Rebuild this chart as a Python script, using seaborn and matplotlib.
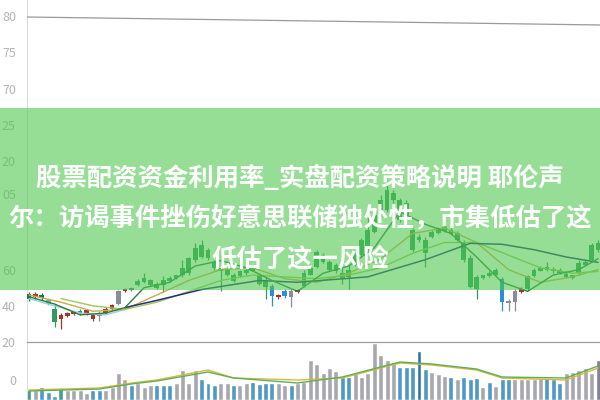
import numpy as np
import pandas as pd
import matplotlib
matplotlib.use("Agg")
import matplotlib.pyplot as plt
from matplotlib.patches import Rectangle
import seaborn as sns

# ---------------- data ----------------
body_top = [46.3, 46.3, 45.8, 43.1, 38.1, 34.8, 35.9, 36.5, 37.0, 37.6,
            34.8, 35.4, 38.1, 40.3, 48.0, 49.1, 49.6, 53.5, 55.1, 54.0,
            51.8, 54.0, 55.1, 56.8, 61.1, 66.6, 72.1, 73.7, 71.0, 64.4,
            61.1, 60.0, 57.3, 59.0, 60.0, 61.1, 56.2, 53.5, 50.7, 45.8,
            48.0, 48.0, 48.5, 58.4, 61.1, 69.9, 68.3, 64.4, 62.8, 58.4,
            60.0, 68.3, 76.5, 82.0, 90.2, 98.4, 103.9, 102.2, 98.4, 96.8,
            82.0, 78.1, 76.5, 80.9, 83.1, 83.6, 82.0, 80.3, 74.8, 66.6,
            55.7, 56.8, 58.4, 60.0, 54.6, 42.5, 48.0, 49.1, 56.2, 60.0,
            61.1, 61.7, 60.6, 60.0, 57.8, 56.8, 63.9, 64.4, 73.7, 74.8]
body_bot = [43.6, 44.7, 44.1, 40.9, 31.0, 32.6, 34.3, 35.4, 35.9, 35.4,
            32.6, 34.3, 35.9, 38.1, 40.9, 48.0, 48.5, 51.3, 52.9, 51.3,
            49.6, 51.3, 53.5, 55.1, 56.8, 58.4, 65.5, 67.2, 66.6, 61.1,
            59.0, 57.3, 53.5, 56.2, 58.4, 59.5, 51.8, 50.2, 45.2, 44.7,
            45.2, 44.7, 47.4, 50.7, 57.3, 61.7, 64.4, 60.0, 59.0, 54.6,
            55.7, 62.8, 68.3, 72.1, 80.9, 90.2, 92.9, 98.4, 87.4, 90.2,
            71.0, 76.5, 69.4, 78.1, 80.3, 81.4, 79.8, 76.5, 65.5, 50.2,
            49.1, 55.1, 56.2, 57.3, 42.0, 41.4, 42.0, 47.4, 49.1, 56.2,
            59.5, 60.0, 59.0, 58.4, 55.7, 55.1, 58.4, 62.8, 65.5, 71.0]
wick_hi = [47.4, 47.4, 46.9, 43.6, 40.9, 35.9, 36.5, 37.0, 38.1, 38.1,
           35.4, 37.0, 39.2, 40.9, 48.5, 49.6, 50.2, 54.6, 58.4, 54.6,
           52.9, 56.2, 56.2, 57.3, 65.5, 67.2, 74.8, 76.5, 72.1, 65.5,
           68.3, 61.1, 58.4, 60.0, 61.1, 62.8, 57.3, 55.7, 51.8, 46.3,
           49.1, 49.1, 49.1, 60.0, 62.2, 71.0, 69.4, 65.5, 63.9, 61.7,
           62.8, 69.4, 77.6, 90.2, 91.8, 101.1, 106.6, 103.9, 99.5, 98.4,
           83.1, 79.8, 78.1, 82.0, 83.6, 84.7, 83.1, 81.4, 76.5, 68.3,
           56.8, 57.3, 59.0, 61.1, 55.7, 43.6, 49.1, 50.2, 57.3, 61.1,
           62.2, 64.4, 61.7, 61.1, 59.0, 57.3, 65.5, 65.5, 74.8, 76.5]
wick_lo = [42.5, 43.6, 43.1, 40.3, 28.3, 27.2, 33.7, 34.8, 34.8, 34.8,
           31.5, 31.5, 35.4, 37.6, 40.3, 47.4, 48.0, 50.7, 52.4, 50.7,
           49.1, 47.4, 52.9, 54.6, 55.7, 57.3, 64.4, 66.6, 65.5, 60.0,
           48.0, 56.2, 52.9, 55.7, 57.3, 59.0, 51.3, 43.6, 39.8, 43.6,
           44.1, 39.2, 46.9, 50.2, 56.8, 61.1, 63.9, 59.5, 58.4, 51.8,
           49.1, 62.2, 67.2, 71.0, 80.3, 89.1, 91.8, 96.8, 86.3, 89.1,
           69.9, 75.4, 61.7, 77.6, 79.8, 80.9, 79.2, 75.9, 64.4, 49.6,
           43.6, 54.6, 55.7, 56.8, 37.0, 37.0, 37.0, 46.9, 48.5, 55.7,
           59.0, 59.5, 58.4, 57.8, 55.1, 54.6, 57.3, 62.2, 64.4, 69.9]
candle_kind = list("trtcgrrrgrrkrrkrg" + "g" * 21 + "brbkr" + "g" * 31 + "bkkr" + "g" * 12)

volume = [5, 5, 6.5, 4, 2, 6, 5, 5, 5, 3.5,
          5, 5, 5, 6.5, 13.5, 10.5, 7.5, 8.5, 6.5, 7.5,
          7.5, 7.5, 7.5, 8.5, 15, 8.5, 15, 10.5, 8.5, 7.5,
          8.5, 8.5, 7.5, 7.5, 8.5, 9, 8, 8.5, 8.5, 8.5,
          7.5, 7.5, 8.5, 9, 20, 18, 13.5, 16, 14.5, 11.5,
          11.5, 13.5, 11.5, 13.5, 28.5, 22.5, 20, 19, 16.5, 16.5,
          16.5, 24.5, 15.5, 14, 13, 12, 11.5, 10.5, 11.5, 10.5,
          11, 6.5, 9, 7, 10.5, 10.5, 10.5, 10.5, 10.5, 10.5,
          11, 11, 10.5, 8.5, 13.5, 14, 15, 16, 13.5, 20]
volume_kind = list("tkbbbtkkkkbbkkkkbkkkbbbkkkkbbbkkbkkbbbbkk"
                   "bkkkkkkkbbkkkkkkkbbbdbkkkbkbbbkbkbbkkkkkbbbkkkkkp")

ma_short_x = [0, 4, 8, 12, 15, 18, 22, 26, 30, 34, 38, 42, 46, 50, 54, 58, 62, 66, 70, 74, 78, 82, 86, 89]
ma_short_y = [45, 41, 35, 36, 39, 50, 53, 62, 65, 61, 54, 48, 58, 62, 72, 92, 85, 80, 67, 53, 48, 57, 60, 66]
ma_mid_x = [0, 5, 10, 15, 20, 25, 30, 35, 40, 45, 50, 55, 60, 65, 70, 75, 80, 85, 89]
ma_mid_y = [46, 42, 37, 38, 46, 54, 60, 61, 55, 53, 58, 66, 80, 83, 75, 60, 53, 56, 60]
ma_20_x = [5, 10, 15, 20, 25, 30, 35, 40, 45, 50, 55, 60, 65, 70, 75, 80, 85, 89]
ma_20_y = [44, 40, 38, 42, 48, 54, 57, 56, 55, 57, 61, 69, 75, 75, 68, 61, 58, 59]
ma_long_x = [15, 20, 27, 36, 42, 53, 62, 69, 74, 79, 84, 89]
ma_long_y = [39, 43, 49, 54, 53, 56, 65.5, 74.5, 74, 71, 67, 64]
ma_left_x = [0, 4, 8, 12, 15]
ma_left_y = [44, 40, 36, 35, 38]
top_line_x = [-0.3, 89.3]
top_line_y = [199.6, 195.2]

vol_ma_x = [0, 11, 16, 20, 28, 32, 42, 49, 58, 63, 70, 74, 84, 89]
vol_ma_a = [5, 6, 8.5, 10, 15, 11, 10, 11, 18.5, 17.5, 15, 11, 10, 16]
vol_ma_b = [4.5, 5.5, 8, 9.5, 14, 11, 8.5, 11.5, 19, 18, 15.5, 11.5, 11, 17]

price_ticks = [200, 180, 160, 140, 120, 102, 60, 40, 20]
price_tick_labels = ["80", "75", "70", "25", "20", "05", "60", "40", "20"]
vol_ticks = [10]
vol_tick_labels = ["0"]

title_lines = ["股票配资资金利用率_实盘配资策略说明 耶伦声",
               "尔：访谒事件挫伤好意思联储独处性，市集低估了这",
               "低估了这一风险"]

# ---------------- style ----------------
sns.set_theme(style="white")
plt.rcParams['font.family'] = ['Noto Sans CJK SC', 'DejaVu Sans']

candle_colors = {"t": "#17755a", "r": "#a8322d", "c": "#5fbfa8", "g": "#2f9a5a",
                 "b": "#2a8fd6", "k": "#8c8c98"}
vol_colors = {"t": "#36ab9a", "k": "#a6a6b0", "b": "#3c9ed8", "d": "#1f78b8", "p": "#7e7e9e"}

fig = plt.figure(figsize=(6, 4), dpi=100)
fig.patch.set_facecolor("white")
ax = fig.add_axes([27 / 600, 58 / 400, 573 / 600, 342 / 400])
axv = fig.add_axes([27 / 600, 0, 573 / 600, 58 / 400])

n = len(body_top)
idx = np.arange(n)
xlim = (-0.31, 89.31)

# candles
for i in range(n):
    c = candle_colors[candle_kind[i]]
    ax.vlines(i, wick_lo[i], wick_hi[i], color=c, lw=0.9, zorder=2)
ax.bar(idx, np.array(body_top) - np.array(body_bot), bottom=body_bot, width=0.74,
       color=[candle_colors[k] for k in candle_kind], edgecolor="none", zorder=3)

# moving averages
line_df = [
    (ma_left_x, ma_left_y, "#8fd0ea", 1.0),
    (ma_mid_x, ma_mid_y, "#d1a84a", 1.0),
    (ma_20_x, ma_20_y, "#9cc95a", 1.0),
    (ma_long_x, ma_long_y, "#23307f", 1.1),
    (ma_short_x, ma_short_y, "#2e7d3e", 1.0),
    (top_line_x, top_line_y, "#9a9a9a", 0.9),
]
for xs, ys, col, lw in line_df:
    sns.lineplot(x=xs, y=ys, ax=ax, color=col, lw=lw, zorder=4)

ax.set_xlim(*xlim)
ax.set_ylim(20.55, 209.0)
ax.set_yticks(price_ticks)
ax.set_yticklabels(price_tick_labels)
ax.set_xticks([])
ax.tick_params(axis="y", length=0, pad=8, labelsize=9, labelcolor="#b4b4b4")
for s in ["top", "right", "bottom"]:
    ax.spines[s].set_visible(False)
ax.spines["left"].set_color("#dcdcdc")
ax.spines["left"].set_linewidth(0.8)

# volume
vdf = pd.DataFrame({"i": idx, "v": volume, "k": volume_kind})
sns.barplot(data=vdf, x="i", y="v", hue="k", palette=vol_colors, dodge=False,
            native_scale=True, width=0.78, legend=False, ax=axv, zorder=2)
sns.lineplot(x=vol_ma_x, y=vol_ma_a, ax=axv, color="#d9b83a", lw=1.0, zorder=4)
sns.lineplot(x=vol_ma_x, y=vol_ma_b, ax=axv, color="#5fae5a", lw=1.0, zorder=4)
axv.set_xlim(*xlim)
axv.set_ylim(0, 29)
axv.set_yticks(vol_ticks)
axv.set_yticklabels(vol_tick_labels)
axv.set_xticks([])
axv.set_xlabel("")
axv.set_ylabel("")
axv.tick_params(axis="y", length=0, pad=8, labelsize=9, labelcolor="#b4b4b4")
for s in ["right", "bottom"]:
    axv.spines[s].set_visible(False)
axv.spines["top"].set_color("#9c9c9c")
axv.spines["top"].set_linewidth(0.9)
axv.spines["left"].set_color("#dcdcdc")
axv.spines["left"].set_linewidth(0.8)
axv.set_facecolor("none")
ax.set_facecolor("none")

# banner overlay
banner = Rectangle((0, 1 - 290 / 400), 1, 182 / 400, transform=fig.transFigure,
                   facecolor=(80 / 255, 200 / 255, 80 / 255), alpha=0.6,
                   edgecolor="none", zorder=5)
fig.add_artist(banner)
for txt, yy in zip(title_lines, [179, 218, 259]):
    fig.text(0.5, 1 - yy / 400, txt, ha="center", va="center", color="white",
             fontsize=18.3, fontweight="bold", zorder=6)

fig.savefig("out.png", dpi=100, facecolor="white")
